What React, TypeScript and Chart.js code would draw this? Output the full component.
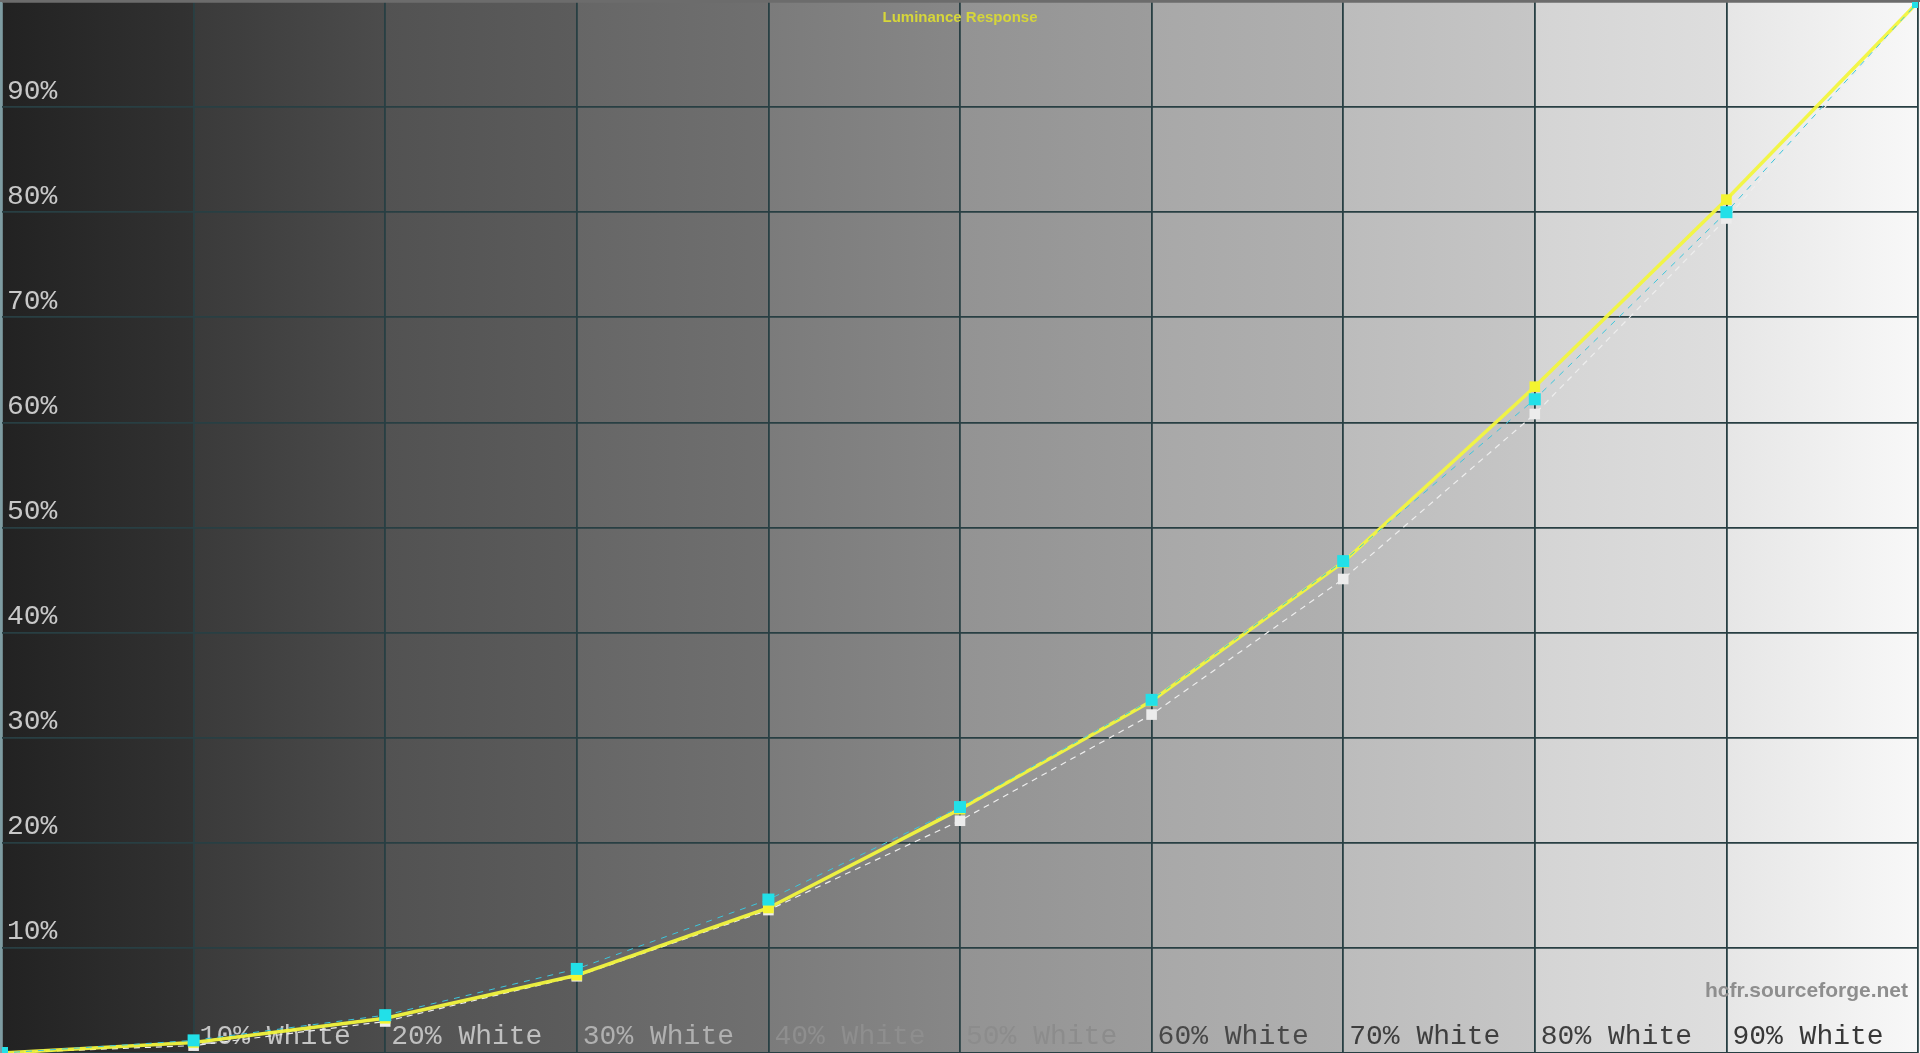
import React, { useEffect, useRef } from "react";
import { Chart, registerables } from "chart.js";

Chart.register(...registerables);

// stimulus levels (% white) and measured / target luminance (% of peak)
const levels = [0, 10, 20, 30, 40, 50, 60, 70, 80, 90, 100];
const measured = [0, 1.0, 3.3, 7.4, 13.8, 23.2, 33.5, 46.7, 63.4, 81.2, 100];
const measuredCyan = [0, 1.2, 3.6, 8.0, 14.6, 23.4, 33.6, 46.8, 62.2, 80.0, 100];
const reference = [0, 0.7, 3.0, 7.3, 13.6, 22.1, 32.2, 45.1, 60.8, 79.4, 100];

const xTickLabels = ["", "10% White", "20% White", "30% White", "40% White", "50% White", "60% White", "70% White", "80% White", "90% White", ""];
const yTickLabels = ["", "10%", "20%", "30%", "40%", "50%", "60%", "70%", "80%", "90%", ""];

const TITLE = "Luminance Response";
const WATERMARK = "hcfr.sourceforge.net";

// styling
const xLabelColors = ["#c4c4c4", "#c4c4c4", "#c0c0c0", "#b0b0b0", "#8e8e8e", "#8c8c8c", "#484848", "#3e3e3e", "#3e3e3e", "#383838", "#383838"];
const colStart = ["#222222", "#3a3a3a", "#525252", "#666666", "#7b7b7b", "#939393", "#a8a8a8", "#bcbcbc", "#d4d4d4", "#e6e6e6"];
const colEnd = ["#323232", "#4c4c4c", "#5c5c5c", "#707070", "#878787", "#9c9c9c", "#b0b0b0", "#c6c6c6", "#dedede", "#f8f8f8"];
const GRID = "#283f43";
const MONO = "'Liberation Mono', 'DejaVu Sans Mono', monospace";

const toPoints = (ys: number[]) => levels.map((x, i) => ({ x, y: ys[i] }));

// axes keep their labels inside the plot, so they take no room
const noRoom = (scale: any) => {
  if (scale.isHorizontal()) scale.height = 0;
  else scale.width = 0;
  scale.paddingTop = 0;
  scale.paddingBottom = 0;
  scale.paddingLeft = 0;
  scale.paddingRight = 0;
};

const backdropPlugin = {
  id: "backdrop",
  beforeDraw(chart: Chart) {
    const { ctx, chartArea } = chart;
    const { left, right, top, bottom } = chartArea;
    const g = ctx.createLinearGradient(left, 0, right, 0);
    const n = colStart.length;
    for (let i = 0; i < n; i++) {
      g.addColorStop(i / n, colStart[i]);
      g.addColorStop(Math.max(i / n, (i + 1) / n - 0.0005), colEnd[i]);
    }
    ctx.save();
    ctx.fillStyle = g;
    ctx.fillRect(left, top, right - left, bottom - top);
    ctx.fillStyle = "#f4f4f4";
    ctx.fillRect(right, top, chart.width - right, bottom - top);
    ctx.restore();
  },
  afterDraw(chart: Chart) {
    const { ctx, chartArea } = chart;
    ctx.save();
    // frame
    ctx.fillStyle = "#6c6c6c";
    ctx.fillRect(0, 0, chart.width, chartArea.top);
    ctx.fillStyle = "#7e9ca2";
    ctx.fillRect(0, chartArea.top, 2, chartArea.bottom - chartArea.top);
    // title
    ctx.font = "bold 15px 'Liberation Sans', Arial, sans-serif";
    ctx.fillStyle = "#d6d63a";
    ctx.textAlign = "center";
    ctx.textBaseline = "alphabetic";
    ctx.fillText(TITLE, (chartArea.left + chartArea.right) / 2, 22);
    // watermark
    ctx.font = "bold 21px 'Liberation Sans', Arial, sans-serif";
    ctx.fillStyle = "#8e8e8e";
    ctx.textAlign = "right";
    ctx.fillText(WATERMARK, chartArea.right - 10, 997);
    ctx.restore();
  },
};

const App: React.FC = () => {
  const canvasRef = useRef<HTMLCanvasElement>(null);
  const chartRef = useRef<Chart | null>(null);

  useEffect(() => {
    document.body.style.margin = "0";
    document.body.style.overflow = "hidden";
    if (!canvasRef.current) return;

    chartRef.current = new Chart(canvasRef.current, {
      type: "line",
      data: {
        datasets: [
          {
            label: "Measured (cyan)",
            data: toPoints(measuredCyan),
            borderColor: "#3cc6dc",
            borderWidth: 1,
            borderDash: [6, 6],
            pointStyle: "rect",
            pointRadius: 8.5,
            pointBackgroundColor: "#22e0e8",
            pointBorderWidth: 0,
            order: 0,
          },
          {
            label: "Measured",
            data: toPoints(measured),
            borderColor: "rgba(242, 246, 62, 0.95)",
            borderWidth: 3.5,
            pointStyle: "rect",
            pointRadius: 7.5,
            pointBackgroundColor: "#f4f430",
            pointBorderWidth: 0,
            order: 1,
          },
          {
            label: "Reference",
            data: toPoints(reference),
            borderColor: "#eeeeee",
            borderWidth: 1.2,
            borderDash: [6, 5],
            pointStyle: "rect",
            pointRadius: 7.5,
            pointBackgroundColor: "#ececec",
            pointBorderWidth: 0,
            order: 2,
          },
        ],
      },
      options: {
        responsive: true,
        maintainAspectRatio: false,
        animation: false,
        layout: { padding: { top: 2, right: 2, left: 2, bottom: 0 }, autoPadding: false },
        elements: { line: { tension: 0 } },
        plugins: {
          legend: { display: false },
          tooltip: { enabled: false },
          title: { display: false },
        },
        scales: {
          x: {
            type: "linear",
            min: 0,
            max: 100,
            afterFit: noRoom,
            border: { display: false },
            grid: {
              color: (c: any) => (c.tick && c.tick.value === 0 ? "#7e9ca2" : GRID),
              lineWidth: 1.8,
              drawTicks: false,
            },
            ticks: {
              stepSize: 10,
              autoSkip: false,
              maxRotation: 0,
              minRotation: 0,
              mirror: true,
              padding: 0,
              align: "start",
              labelOffset: 6,
              color: (c: any) => xLabelColors[c.index] || "#444",
              font: { family: MONO, size: 28 },
              callback: (_v: any, i: number) => xTickLabels[i],
            },
          },
          y: {
            type: "linear",
            min: 0,
            max: 100,
            afterFit: noRoom,
            border: { display: false },
            grid: {
              color: (c: any) => (c.tick && c.tick.value === 100 ? "#6c6c6c" : GRID),
              lineWidth: 1.8,
              drawTicks: false,
            },
            ticks: {
              stepSize: 10,
              autoSkip: false,
              mirror: true,
              padding: 5,
              labelOffset: -16,
              color: "#c8c8c8",
              font: { family: MONO, size: 28 },
              callback: (_v: any, i: number) => yTickLabels[i],
            },
          },
        },
      },
      plugins: [backdropPlugin],
    });

    return () => {
      if (chartRef.current) {
        chartRef.current.destroy();
        chartRef.current = null;
      }
    };
  }, []);

  return (
    <div style={{ width: "1920px", height: "1053px", position: "relative" }}>
      <canvas ref={canvasRef}></canvas>
    </div>
  );
};

export default App;
